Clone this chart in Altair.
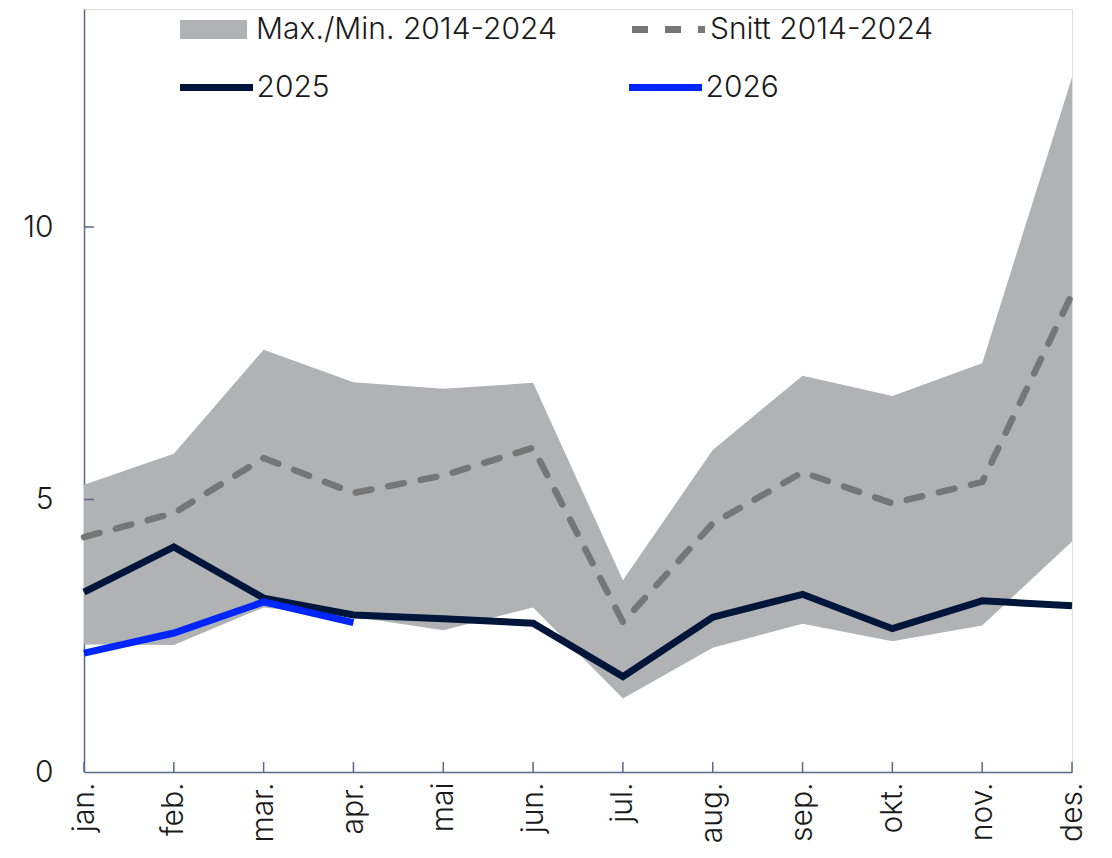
import altair as alt
import pandas as pd

months = ["jan.", "feb.", "mar.", "apr.", "mai", "jun.", "jul.", "aug.", "sep.", "okt.", "nov.", "des."]
max_vals = [5.27, 5.84, 7.75, 7.15, 7.03, 7.14, 3.52, 5.91, 7.27, 6.90, 7.50, 12.75]
min_vals = [2.34, 2.33, 3.02, 2.85, 2.60, 3.02, 1.35, 2.28, 2.72, 2.40, 2.69, 4.23]
avg_vals = [4.31, 4.75, 5.76, 5.12, 5.44, 5.95, 2.75, 4.56, 5.50, 4.93, 5.32, 8.77]
vals_2025 = [3.30, 4.13, 3.19, 2.88, 2.81, 2.73, 1.75, 2.84, 3.26, 2.63, 3.14, 3.05]
vals_2026 = [2.18, 2.55, 3.12, 2.74]
y_ticks = [5, 10]

S_BAND = "Max./Min. 2014-2024"
S_AVG = "Snitt 2014-2024"
S_25 = "2025"
S_26 = "2026"
BAND_COLOR = "#b1b2b4"
AVG_COLOR = "#767676"
C25 = "#00153a"
C26 = "#0026ff"
DASH = [16, 17]
LEG_DASH = [23, 9]

FONT = "Inter"
FW = 300
FS = 30
AXIS_COLOR = "#5a6987"
TEXT_COLOR = "#1a1a1a"

band_df = pd.DataFrame({"month": months, "lo": min_vals, "hi": max_vals, "band": S_BAND})
avg_df = pd.DataFrame({"month": months, "v": avg_vals, "avgs": S_AVG})
df25 = pd.DataFrame({"month": months, "v": vals_2025, "series": S_25})
df26 = pd.DataFrame({"month": months[:len(vals_2026)], "v": vals_2026, "series": S_26})
lines_df = pd.concat([df25, df26], ignore_index=True)
ytick_df = pd.DataFrame({"v": y_ticks})
xtick_df = pd.DataFrame({"month": months})

W, H = 988, 763

x_enc = alt.X("month:N", sort=months, scale=alt.Scale(type="point", padding=0),
              axis=alt.Axis(title=None, labelAngle=270, labelFont=FONT, labelFontSize=FS,
                            labelFontWeight=FW, labelColor=TEXT_COLOR, labelPadding=10, ticks=False,
                            domainColor=AXIS_COLOR, domainWidth=1.5, grid=False))
y_scale = alt.Scale(domain=[0, 14], nice=False)
y_axis = alt.Axis(title=None, values=[0, 5, 10], labelFont=FONT, labelFontSize=FS,
                  labelFontWeight=FW, labelColor=TEXT_COLOR, labelPadding=31, ticks=False,
                  domainColor=AXIS_COLOR, domainWidth=1.5, grid=False)

common_leg = dict(title=None, orient="none", padding=0, labelFont=FONT, labelFontSize=FS,
                  labelFontWeight=FW, labelColor=TEXT_COLOR, labelLimit=0)

band_leg = alt.Legend(legendX=96, legendY=-13, symbolType="M-1,-0.28H1V0.28H-1Z",
                      symbolSize=4489, symbolStrokeWidth=0, labelOffset=9, **common_leg)
avg_leg = alt.Legend(legendX=544.5, legendY=-19.5, symbolType="stroke", symbolSize=5329,
                     symbolStrokeColor=AVG_COLOR, symbolStrokeWidth=7, symbolDash=LEG_DASH,
                     labelOffset=1.5, **common_leg)
line_leg = alt.Legend(legendX=92.5, legendY=38.5, symbolType="stroke", symbolSize=5329,
                      symbolStrokeWidth=7, labelOffset=0, direction="horizontal", columns=2,
                      columnPadding=284, **common_leg)

band = alt.Chart(band_df).mark_area(opacity=1).encode(
    x=x_enc, y=alt.Y("hi:Q", scale=y_scale, axis=y_axis), y2="lo:Q",
    fill=alt.Fill("band:N", scale=alt.Scale(domain=[S_BAND], range=[BAND_COLOR]), legend=band_leg))
avg = alt.Chart(avg_df).mark_line(strokeWidth=6.5, color=AVG_COLOR, strokeCap="round").encode(
    x=x_enc, y=alt.Y("v:Q", scale=y_scale, axis=y_axis),
    strokeDash=alt.StrokeDash("avgs:N", scale=alt.Scale(domain=[S_AVG], range=[DASH]), legend=avg_leg))
lines = alt.Chart(lines_df).mark_line(strokeWidth=7, strokeCap="butt").encode(
    x=x_enc, y=alt.Y("v:Q", scale=y_scale, axis=y_axis),
    stroke=alt.Stroke("series:N", scale=alt.Scale(domain=[S_25, S_26], range=[C25, C26]), legend=line_leg))
yticks = alt.Chart(ytick_df).mark_rule(color=AXIS_COLOR, strokeWidth=1.5).encode(
    y=alt.Y("v:Q", scale=y_scale, axis=y_axis), x=alt.value(0), x2=alt.value(10))
xticks = alt.Chart(xtick_df).mark_rule(color=AXIS_COLOR, strokeWidth=1.5).encode(
    x=x_enc, y=alt.value(H), y2=alt.value(H - 10))

chart = alt.layer(band, avg, lines, yticks, xticks).properties(
    width=W, height=H, autosize=alt.AutoSizeParams(type="none"),
    padding={"left": 76, "top": 1, "right": 30, "bottom": 76}
).configure_view(stroke=None).configure(background="white")

chart.save("out.html", embed_options={"renderer": "svg", "actions": False})
